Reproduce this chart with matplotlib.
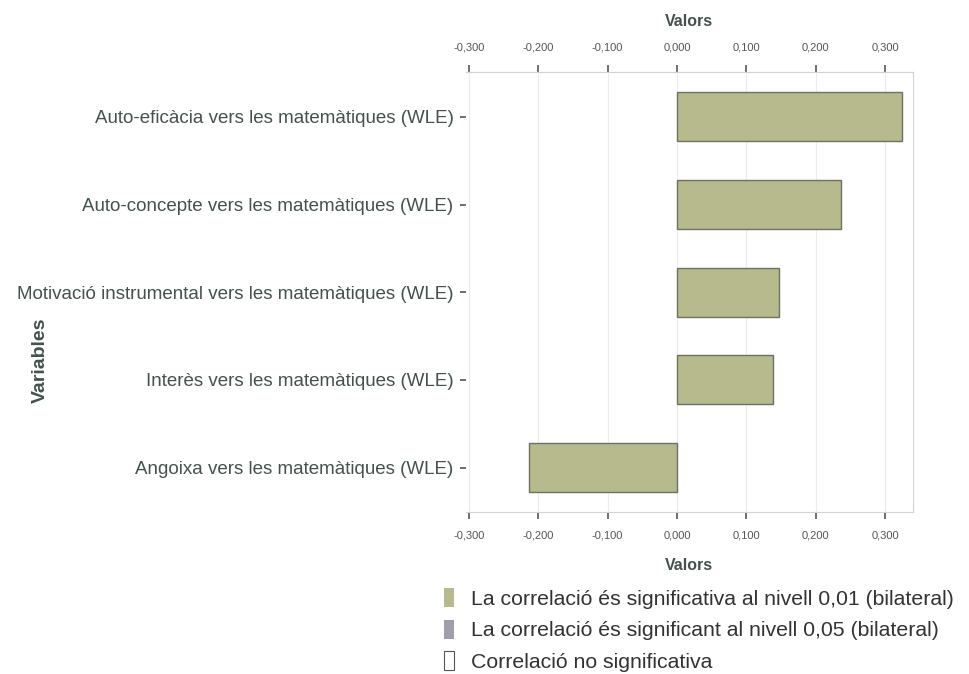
import matplotlib.pyplot as plt
from matplotlib.patches import Patch
from matplotlib.ticker import FuncFormatter

# data
variables = [
    "Auto-eficàcia vers les matemàtiques (WLE)",
    "Auto-concepte vers les matemàtiques (WLE)",
    "Motivació instrumental vers les matemàtiques (WLE)",
    "Interès vers les matemàtiques (WLE)",
    "Angoixa vers les matemàtiques (WLE)",
]
values = [0.324, 0.237, 0.147, 0.138, -0.213]
x_ticks = [-0.3, -0.2, -0.1, 0.0, 0.1, 0.2, 0.3]
legend_labels = [
    "La correlació és significativa al nivell 0,01 (bilateral)",
    "La correlació és significant al nivell 0,05 (bilateral)",
    "Correlació no significativa",
]

plt.rcParams['font.family'] = ['Liberation Sans', 'DejaVu Sans']

bar_color = '#b6ba8c'
edge_color = '#6e7262'
label_color = '#44524e'

fig = plt.figure(figsize=(9.69, 6.74), dpi=100)
ax = fig.add_axes([0.481, 0.240, 0.461, 0.653])

pos = list(range(len(variables)))
ax.barh(pos, values, height=0.56, color=bar_color, edgecolor=edge_color, linewidth=1.0, zorder=3)
ax.set_ylim(len(variables) - 0.49, -0.51)
ax.set_xlim(-0.304, 0.340)

ax.set_yticks(pos)
ax.set_yticklabels(variables, fontsize=13.5, color=label_color)
ax.set_xticks(x_ticks)
fmt = FuncFormatter(lambda v, p: f"{v:.3f}".replace('.', ','))
ax.xaxis.set_major_formatter(fmt)
ax.tick_params(axis='x', labelsize=8, colors='#555555', length=5, width=1.2, direction='out', pad=8)
ax.tick_params(axis='y', length=4, width=1.2, colors='#555555', labelcolor=label_color, pad=5)

ax.grid(axis='x', color='#ececec', linewidth=0.8, zorder=0)
for s in ['top', 'bottom', 'right']:
    ax.spines[s].set_color('#d4d4d4')
ax.spines['left'].set_visible(False)

secax = ax.secondary_xaxis('top')
secax.set_xticks(x_ticks)
secax.xaxis.set_major_formatter(fmt)
secax.tick_params(labelsize=8, colors='#555555', length=5, width=1.2, pad=9)
secax.spines['top'].set_color('#d4d4d4')
secax.set_xlabel('Valors', fontsize=11.5, fontweight='bold', color=label_color, labelpad=12)

ax.set_xlabel('Valors', fontsize=11.5, fontweight='bold', color=label_color, labelpad=13)
fig.text(0.042, 0.465, 'Variables', rotation=90, fontsize=14, fontweight='bold',
         color=label_color, ha='center', va='center')

handles = [
    Patch(facecolor=bar_color, edgecolor='none'),
    Patch(facecolor='#a29dab', edgecolor='none'),
    Patch(facecolor='white', edgecolor='#555555', linewidth=0.8),
]
fig.legend(handles, legend_labels, loc='upper left', bbox_to_anchor=(0.458, 0.128),
           frameon=False, fontsize=15.3, handlelength=0.48, handleheight=1.0,
           handletextpad=0.8, labelspacing=0.52, borderaxespad=0, borderpad=0,
           labelcolor='#333333')

fig.savefig('out.png', dpi=100, facecolor='white')
